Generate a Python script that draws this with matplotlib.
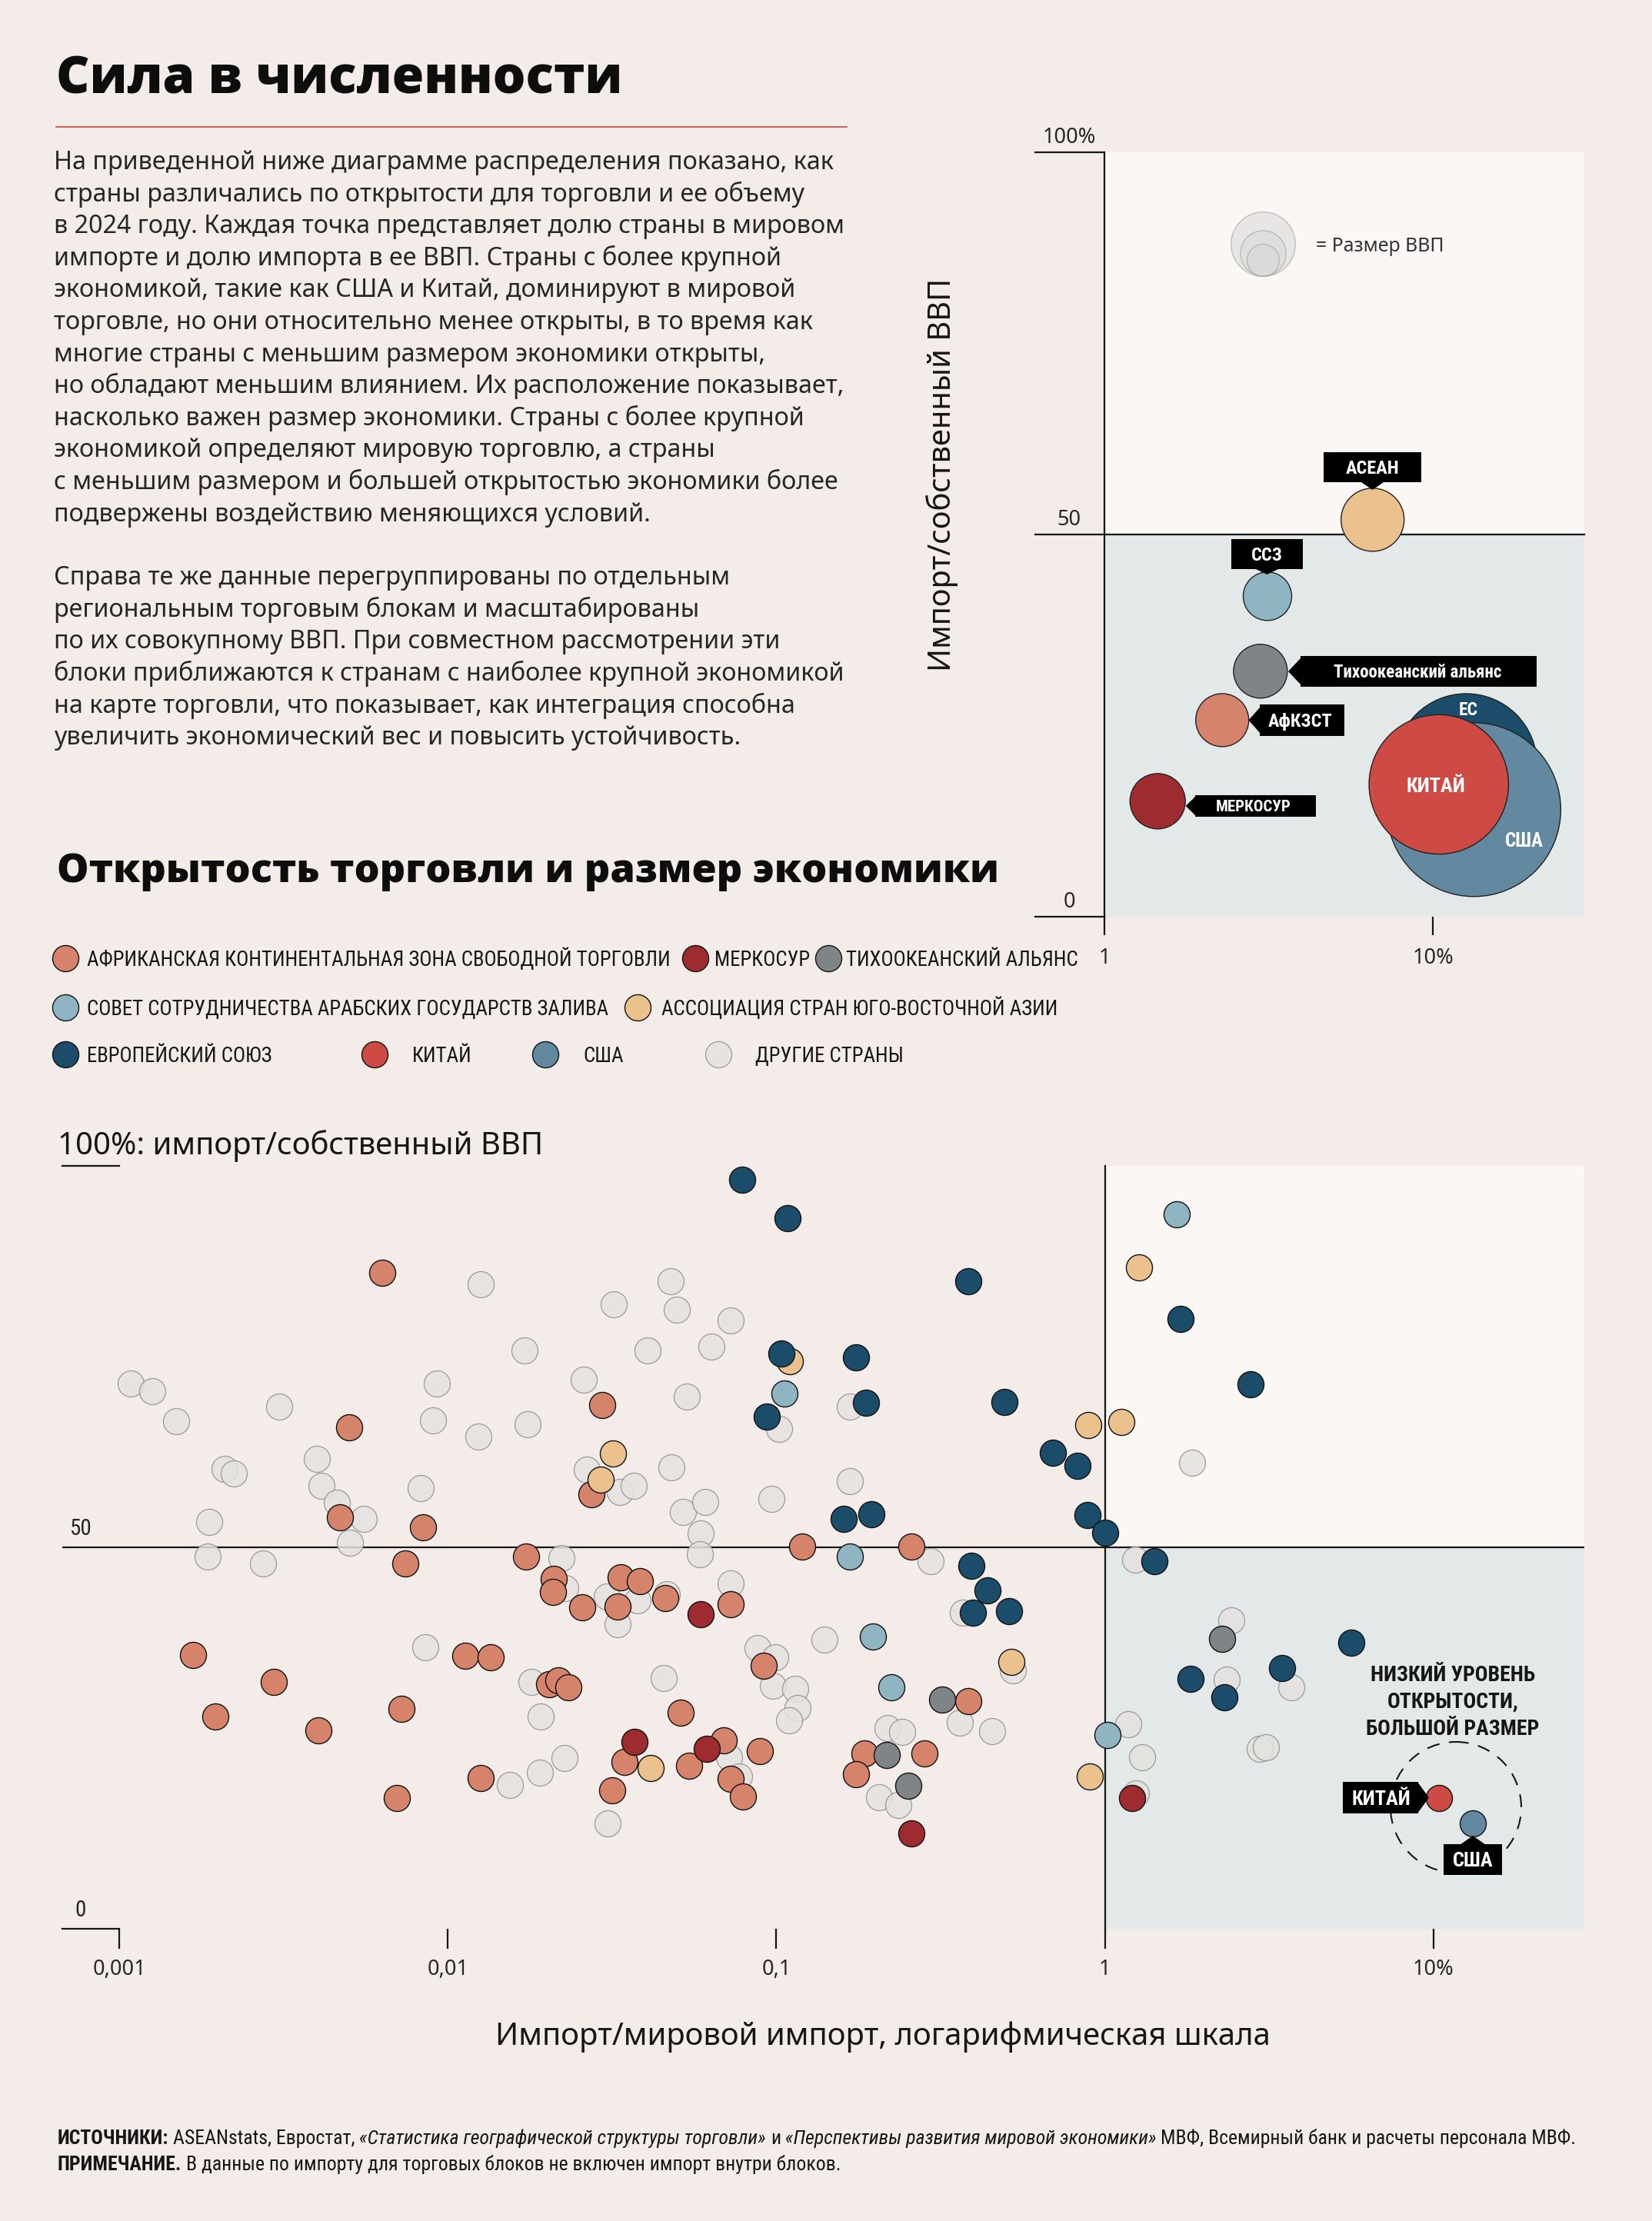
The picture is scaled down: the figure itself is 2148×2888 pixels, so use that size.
import os
import matplotlib
matplotlib.use("Agg")
import matplotlib.pyplot as plt
import matplotlib.font_manager as fm
from matplotlib.ticker import NullLocator
from matplotlib.patches import Rectangle, Polygon, Circle

# ---------------------------------------------------------------
# data
# x = import share of world imports, %   y = imports / own GDP, %
# ---------------------------------------------------------------
afcfta_x = [0.0063, 0.0050, 0.0295, 0.0274, 0.0047, 0.0084, 0.0074, 0.0173, 0.0210, 0.0209,
            0.0256, 0.0335, 0.0385, 0.0328, 0.0458, 0.0725, 0.120, 0.258, 0.00167, 0.0113,
            0.0135, 0.00295, 0.0203, 0.0217, 0.0232, 0.00196, 0.00403, 0.00723, 0.0126, 0.0070,
            0.0915, 0.0512, 0.0344, 0.0317, 0.0543, 0.0692, 0.0727, 0.0790, 0.0889, 0.185,
            0.175, 0.282, 0.385]
afcfta_y = [86.0, 65.7, 68.6, 56.9, 53.9, 52.6, 47.9, 48.8, 45.8, 44.1,
            42.1, 46.0, 45.5, 42.2, 43.3, 42.5, 50.1, 50.1, 35.9, 35.8,
            35.6, 32.3, 32.0, 32.5, 31.6, 27.8, 26.0, 28.8, 19.7, 17.1,
            34.4, 28.3, 21.8, 18.1, 21.3, 24.7, 19.6, 17.3, 23.2, 22.9,
            20.2, 22.9, 29.8]

mercosur_x = [0.0589, 0.0369, 0.0614, 0.257, 1.21]
mercosur_y = [41.2, 24.5, 23.6, 12.5, 17.1]

pacific_x = [2.27, 0.319, 0.217, 0.252]
pacific_y = [38.0, 30.0, 22.7, 18.7]

gcc_x = [1.66, 0.106, 0.167, 0.197, 0.224, 1.017]
gcc_y = [93.6, 70.1, 48.8, 38.3, 31.6, 25.4]

asean_x = [0.110, 0.0318, 0.0292, 1.27, 0.892, 1.12, 0.518, 0.0415, 0.898]
asean_y = [74.4, 62.3, 58.8, 86.7, 66.0, 66.4, 34.9, 21.0, 19.9]

eu_x = [0.0785, 0.108, 0.385, 0.1035, 0.175, 0.187, 0.0937, 0.494, 0.695, 0.825,
        0.886, 1.004, 0.160, 0.195, 0.392, 0.439, 0.397, 0.512, 1.70, 2.78,
        1.415, 5.64, 3.47, 1.82, 2.31]
eu_y = [98.2, 93.1, 84.9, 75.4, 74.9, 68.9, 67.1, 69.0, 62.4, 60.7,
        54.2, 51.9, 53.7, 54.3, 47.6, 44.3, 41.4, 41.6, 79.9, 71.4,
        48.2, 37.5, 34.1, 32.7, 30.3]

china_x, china_y = [10.4], [17.1]
usa_x, usa_y = [13.2], [13.8]

other_x = [0.0126, 0.0171, 0.0259, 0.00108, 0.00126, 0.00149, 0.00306, 0.00927, 0.00898, 0.0175,
           0.0124, 0.00209, 0.00223, 0.00399, 0.00411, 0.0046, 0.00554, 0.00504, 0.00826, 0.00187,
           0.00185, 0.00274, 0.0477, 0.0319, 0.0497, 0.0724, 0.0406, 0.0635, 0.0533, 0.0264,
           0.0479, 0.0334, 0.0367, 0.0520, 0.0607, 0.0588, 0.0586, 0.0968, 0.167, 0.167,
           0.1018, 0.0222, 0.0227, 0.295, 0.370, 0.0305, 0.0377, 0.0329, 0.0465, 0.0727,
           0.140, 0.0877, 0.0994, 0.0977, 0.114, 0.116, 0.1095, 0.526, 0.362, 0.453,
           0.0454, 0.0192, 0.0180, 0.00853, 0.0226, 0.0191, 0.0154, 0.0306, 0.0716, 0.0769,
           0.218, 0.242, 0.205, 0.235, 1.24, 2.43, 3.70, 2.35, 1.18, 1.30,
           2.97, 3.09, 1.245, 1.84]
other_y = [84.5, 75.8, 72.0, 71.5, 70.4, 66.5, 68.4, 71.5, 66.6, 66.1,
           64.5, 60.3, 59.7, 61.6, 58.0, 55.8, 53.7, 50.6, 57.7, 53.3,
           48.8, 47.9, 84.9, 81.8, 81.1, 79.7, 75.8, 76.3, 69.7, 60.2,
           60.5, 57.2, 58.0, 54.6, 55.9, 51.8, 49.1, 56.3, 58.6, 68.4,
           65.5, 48.6, 44.6, 48.2, 41.4, 43.5, 43.0, 39.9, 43.8, 45.2,
           37.9, 36.8, 35.6, 31.8, 31.4, 28.9, 27.3, 33.8, 27.0, 25.9,
           32.8, 27.8, 32.3, 36.9, 22.3, 20.4, 18.8, 13.8, 22.4, 19.9,
           26.3, 25.8, 17.2, 16.2, 48.4, 40.4, 31.6, 32.6, 26.8, 22.4,
           23.6, 23.8, 17.7, 61.1]

# trade blocs, sized by GDP (trillion $)
bloc_names = ["АСЕАН", "ССЗ", "Тихоокеанский альянс", "АфКЗСТ", "МЕРКОСУР", "ЕС", "США", "КИТАЙ"]
bloc_x = [6.54, 3.13, 2.98, 2.28, 1.45, 12.6, 13.3, 10.4]
bloc_y = [51.9, 41.9, 32.1, 25.7, 15.1, 19.9, 14.0, 17.3]
bloc_gdp = [3.84, 2.27, 2.80, 2.72, 2.96, 19.4, 29.2, 18.8]
key_gdp = [4, 2, 1]

scatter_ticks = [0.001, 0.01, 0.1, 1, 10]
scatter_ticklabels = ["0,001", "0,01", "0,1", "1", "10%"]

legend_names = ["АФРИКАНСКАЯ КОНТИНЕНТАЛЬНАЯ ЗОНА СВОБОДНОЙ ТОРГОВЛИ", "МЕРКОСУР",
                "ТИХООКЕАНСКИЙ АЛЬЯНС", "СОВЕТ СОТРУДНИЧЕСТВА АРАБСКИХ ГОСУДАРСТВ ЗАЛИВА",
                "АССОЦИАЦИЯ СТРАН ЮГО-ВОСТОЧНОЙ АЗИИ", "ЕВРОПЕЙСКИЙ СОЮЗ", "КИТАЙ", "США",
                "ДРУГИЕ СТРАНЫ"]

para1 = [
    "На приведенной ниже диаграмме распределения показано, как",
    "страны различались по открытости для торговли и ее объему",
    "в 2024 году. Каждая точка представляет долю страны в мировом",
    "импорте и долю импорта в ее ВВП. Страны с более крупной",
    "экономикой, такие как США и Китай, доминируют в мировой",
    "торговле, но они относительно менее открыты, в то время как",
    "многие страны с меньшим размером экономики открыты,",
    "но обладают меньшим влиянием. Их расположение показывает,",
    "насколько важен размер экономики. Страны с более крупной",
    "экономикой определяют мировую торговлю, а страны",
    "с меньшим размером и большей открытостью экономики более",
    "подвержены воздействию меняющихся условий.",
]
para2 = [
    "Справа те же данные перегруппированы по отдельным",
    "региональным торговым блокам и масштабированы",
    "по их совокупному ВВП. При совместном рассмотрении эти",
    "блоки приближаются к странам с наиболее крупной экономикой",
    "на карте торговли, что показывает, как интеграция способна",
    "увеличить экономический вес и повысить устойчивость.",
]

# ---------------------------------------------------------------
# style
# ---------------------------------------------------------------
BG = "#f3ece8"
UPPER = "#faf7f5"
LOWER = "#e3e8e8"
INK = "#161616"
TXT = "#262626"
RED = "#c9443f"
C_AFCFTA = "#d6836b"
C_MERC = "#9e2b30"
C_PA = "#7f8486"
C_GCC = "#8fb5c3"
C_ASEAN = "#ebc28d"
C_EU = "#1b4d6a"
C_CHINA = "#cd4a45"
C_USA = "#6289a0"
C_OTHER = "#e4e2df"
bloc_colors = [C_ASEAN, C_GCC, C_PA, C_AFCFTA, C_MERC, C_EU, C_USA, C_CHINA]
legend_colors = [C_AFCFTA, C_MERC, C_PA, C_GCC, C_ASEAN, C_EU, C_CHINA, C_USA, C_OTHER]

DOT = 600            # marker area, pt^2
BUBBLE_K = 906.7     # pt^2 per trillion $ of GDP
LW = 1.6

plt.rcParams["font.family"] = ["Noto Sans", "DejaVu Sans"]


def wnum(w):
    if isinstance(w, (int, float)):
        return w
    return fm.weight_dict.get(w, 400)


def pick_narrow(weight=400, italic=False):
    prefs = ["roboto", "liberation", "noto", "open", "dejavu"]
    best, score = None, 1e9
    for f in fm.fontManager.ttflist:
        nm = f.name.lower()
        fn = os.path.basename(f.fname).lower()
        tag = nm + " " + fn
        st = str(f.stretch).lower()
        narrow = ("condensed" in tag or "narrow" in tag or
                  st in ("condensed", "semi-condensed", "extra-condensed", "ultra-condensed"))
        if not narrow or "mono" in tag or "cjk" in tag:
            continue
        if "serif" in nm and "sans" not in nm:
            continue
        fam = next((i for i, p in enumerate(prefs) if p in tag), len(prefs))
        it = f.style in ("italic", "oblique")
        sc = fam * 10 + abs(wnum(f.weight) - weight) / 100 + (6 if it != italic else 0) \
            + (1 if "semi" in tag else 0)
        if sc < score:
            best, score = f, sc
    if best is None:
        return fm.FontProperties(family="DejaVu Sans", weight=weight,
                                 style="italic" if italic else "normal")
    return fm.FontProperties(fname=best.fname)


def pick_heavy(families, weight):
    # a real bold file from a normal-width family
    for fam in families:
        best, bd = None, 1e9
        for f in fm.fontManager.ttflist:
            fn = os.path.basename(f.fname).lower()
            if f.name.lower() != fam.lower() or f.style != "normal":
                continue
            if "condensed" in fn or "narrow" in fn:
                continue
            d = abs(wnum(f.weight) - weight)
            if d < bd:
                best, bd = f, d
        if best is not None and bd <= 110:
            return fm.FontProperties(fname=best.fname)
    return fm.FontProperties(family="DejaVu Sans", weight="bold")


NARROW = pick_narrow(400)
NARROW_B = pick_narrow(700)
NARROW_I = pick_narrow(400, italic=True)
BODY = fm.FontProperties(family=["Noto Sans", "DejaVu Sans"])
BOLD = pick_heavy(["Noto Sans", "Open Sans", "Roboto", "Inter", "DejaVu Sans"], 760)

W, H = 2148, 2888
fig = plt.figure(figsize=(W / 100, H / 100), dpi=100, facecolor=BG)
R = fig.canvas.get_renderer()


def box(l, t, r, b):
    return [l / W, 1 - b / H, (r - l) / W, (b - t) / H]


# ---------------- main scatter ----------------
ax = fig.add_axes(box(80.5, 1516, 2060.4, 2507.5))
ax.set_xscale("log")
ax.set_xlim(10 ** -3.1756, 10 ** 1.4611)
ax.set_ylim(0, 100)
ax.set_facecolor("none")
for s in ax.spines.values():
    s.set_visible(False)
xmin, xmax = ax.get_xlim()
ax.axvspan(1, xmax, 0.5, 1, fc=UPPER, lw=0, zorder=0)
ax.axvspan(1, xmax, 0, 0.5, fc=LOWER, lw=0, zorder=0)
ax.axhline(50, color=INK, lw=LW, zorder=1)
ax.plot([1, 1], [0, 100], color=INK, lw=LW, zorder=1, clip_on=False)
ax.plot([xmin, 0.001], [100, 100], color=INK, lw=LW, clip_on=False)
ax.plot([xmin, 0.001], [0, 0], color=INK, lw=LW, clip_on=False)
ax.set_yticks([])
ax.set_xticks(scatter_ticks)
ax.set_xticklabels(scatter_ticklabels)
ax.xaxis.set_minor_locator(NullLocator())
ax.tick_params(axis="x", direction="out", length=19, width=LW, color=INK,
               pad=9.5, labelsize=19.5, labelcolor=TXT)
yt = ax.get_yaxis_transform()
for v, lab in zip([50, 0], ["50", "0"]):
    ax.annotate(lab, xy=(0.0124, v), xycoords=yt, xytext=(0, 11), textcoords="offset points",
                ha="center", va="baseline", fontproperties=NARROW, fontsize=21, color=TXT)

ax.scatter(other_x, other_y, s=DOT, fc=C_OTHER, ec="#8e8e8e", lw=0.9, alpha=0.85, zorder=2)
groups = [(afcfta_x, afcfta_y, C_AFCFTA), (mercosur_x, mercosur_y, C_MERC),
          (pacific_x, pacific_y, C_PA), (gcc_x, gcc_y, C_GCC), (asean_x, asean_y, C_ASEAN),
          (eu_x, eu_y, C_EU), (china_x, china_y, C_CHINA), (usa_x, usa_y, C_USA)]
for gx, gy, c in groups:
    ax.scatter(gx, gy, s=DOT, fc=c, ec="#111111", lw=1.0, zorder=3)

# ---------------- bloc bubble chart ----------------
ax2 = fig.add_axes(box(1436.3, 197.5, 2060.4, 1192))
ax2.set_xscale("log")
ax2.set_xlim(1, 10 ** 1.461)
ax2.set_ylim(0, 100)
ax2.set_facecolor("none")
for s in ax2.spines.values():
    s.set_visible(False)
ax2.axhspan(50, 100, fc=UPPER, lw=0, zorder=0)
ax2.axhspan(0, 50, fc=LOWER, lw=0, zorder=0)
yt2 = ax2.get_yaxis_transform()
ax2.plot([-0.145, 1], [50, 50], transform=yt2, color=INK, lw=LW, clip_on=False, zorder=1)
ax2.plot([-0.145, 0], [100, 100], transform=yt2, color=INK, lw=LW, clip_on=False, zorder=1)
ax2.plot([-0.145, 0], [0, 0], transform=yt2, color=INK, lw=LW, clip_on=False, zorder=1)
ax2.axvline(1, color=INK, lw=LW, clip_on=False, zorder=1)
ax2.set_yticks([])
ax2.set_xticks([1, 10])
ax2.set_xticklabels(["1", "10%"])
ax2.xaxis.set_minor_locator(NullLocator())
ax2.tick_params(axis="x", direction="out", length=17, width=LW, color=INK,
                pad=12, labelsize=19.5, labelcolor=TXT)
for v, lab in zip([100, 50, 0], ["100%", "50", "0"]):
    ax2.annotate(lab, xy=(-0.0742, v), xycoords=yt2, xytext=(0, 8.5), textcoords="offset points",
                 ha="center", va="baseline", fontsize=19.5, color=TXT)
ax2.scatter(bloc_x, bloc_y, s=[g * BUBBLE_K for g in bloc_gdp], c=bloc_colors,
            ec="#222222", lw=1.0, zorder=3, clip_on=False)

# ---------------- overlay in pixel coordinates ----------------
ov = fig.add_axes([0, 0, 1, 1])
ov.set_xlim(0, W)
ov.set_ylim(H, 0)
ov.axis("off")
ov.patch.set_visible(False)


def fit(t, target, maxsize=None, vertical=False):
    bb = t.get_window_extent(renderer=R)
    cur = bb.height if vertical else bb.width
    size = t.get_fontsize() * target / cur
    if maxsize is not None:
        size = min(size, maxsize)
    t.set_fontsize(size)
    return size


def cap_base(y, size):
    return y + 0.36 * size * 100 / 72


# title + rule
t = ov.text(73, 122, "Сила в численности", fontproperties=BOLD, fontsize=50,
            color="#0d0d0d", va="baseline")
fit(t, 737)
ov.plot([73, 1101], [164.5, 164.5], color=RED, lw=1.2)

# intro text
t = ov.text(70, 220, para1[0], fontproperties=BODY, fontsize=22, color=TXT, va="baseline")
bs = fit(t, 1017)
for i, line in enumerate(para1[1:], 1):
    ov.text(70, 220 + i * 41.6, line, fontproperties=BODY, fontsize=bs, color=TXT, va="baseline")
for i, line in enumerate(para2):
    ov.text(70, 760.2 + i * 41.6, line, fontproperties=BODY, fontsize=bs, color=TXT, va="baseline")

# section heading
t = ov.text(74, 1147, "Открытость торговли и размер экономики", fontproperties=BOLD,
            fontsize=40, color="#0d0d0d", va="baseline")
fit(t, 1225)

# legend
leg_pos = [(85, 112.8, 1246, 766), (904.4, 929.3, 1246, 124.7), (1077, 1100, 1246, 313),
           (85, 112.8, 1310, 677.8), (828.6, 860, 1310, 531.7),
           (85, 112.8, 1371, 268), (487.3, 536.3, 1371, 78.7), (709.3, 758.3, 1371, 57.3),
           (934, 982, 1371, 199.8)]
sizes = []
for name, (mx, tx, ty, tw) in zip(legend_names, leg_pos):
    t = ov.text(tx, ty, name, fontproperties=NARROW, fontsize=22)
    sizes.append(fit(t, tw))
    t.remove()
ls_ = min(min(sizes), 24)
for name, c, (mx, tx, ty, tw) in zip(legend_names, legend_colors, leg_pos):
    other = c == C_OTHER
    ov.scatter([mx], [ty], s=DOT, fc=c, ec="#8e8e8e" if other else "#111111",
               lw=0.9 if other else 1.0, alpha=0.85 if other else 1, zorder=3)
    ov.text(tx, cap_base(ty, ls_), name, fontproperties=NARROW, fontsize=ls_,
            color=INK, va="baseline")

# axis titles
t = ov.text(75, 1501, "100%: импорт/собственный ВВП", fontproperties=BODY, fontsize=26,
            color=INK, va="baseline")
fit(t, 633)
t = ov.text(1225, 617, "Импорт/собственный ВВП", fontproperties=BODY, fontsize=26,
            color=INK, rotation=90, ha="center", va="center")
fit(t, 512, vertical=True)
t = ov.text(644, 2659, "Импорт/мировой импорт, логарифмическая шкала", fontproperties=BODY,
            fontsize=26, color=INK, va="baseline")
fit(t, 1011)

# GDP size key
kx, kbottom = 1641.8, 358.8
for g in key_gdp:
    r = (g * BUBBLE_K) ** 0.5 / 2 * 100 / 72
    ov.scatter([kx], [kbottom - r], s=g * BUBBLE_K, fc="#d8d8d8", ec="#9a9a9a",
               lw=1.0, alpha=0.55, zorder=3)
t = ov.text(1711, 327, "= Размер ВВП", fontproperties=BODY, fontsize=17, color="#333333",
            va="baseline")
fit(t, 166)


def tag(text, rect, pointer, tx, target, maxsize=17.5):
    x0, y0, x1, y1 = rect
    ov.add_patch(Rectangle((x0, y0), x1 - x0, y1 - y0, fc="black", ec="none", zorder=5))
    ov.add_patch(Polygon(pointer, closed=True, fc="black", ec="none", zorder=5))
    cy = (y0 + y1) / 2
    t = ov.text(tx, cy, text, fontproperties=NARROW_B, fontsize=maxsize, color="white",
                ha="center", va="baseline", zorder=6)
    sz = fit(t, target, maxsize)
    t.set_y(cap_base(cy, sz))


tag("АСЕАН", (1720.8, 587.6, 1848.4, 627.3), [(1770, 627), (1799, 627), (1784.6, 637)], 1784.6, 80)
tag("ССЗ", (1600.7, 700.6, 1693.7, 740.2), [(1633, 740), (1662, 740), (1647.5, 747)], 1647.2, 44)
tag("Тихоокеанский альянс", (1690.5, 853, 1997.7, 892.7),
    [(1691, 856), (1691, 890), (1675, 873)], 1843, 284, 16.5)
tag("АфКЗСТ", (1638, 916.2, 1747.8, 956.5), [(1639, 919), (1639, 954), (1623.5, 936.4)], 1691, 92)
tag("МЕРКОСУР", (1554.2, 1033.6, 1711, 1062.2), [(1555, 1035), (1555, 1061), (1541.7, 1048)],
    1630, 130, 15)
tag("КИТАЙ", (1745.9, 2317, 1843.7, 2358), [(1843, 2317), (1843, 2358), (1858, 2337.5)],
    1795.5, 78, 19)
tag("США", (1877.2, 2398.2, 1952.5, 2437.5), [(1898, 2399), (1932, 2399), (1915, 2387)],
    1915, 54, 19)

# names inside the big bubbles
for name, x, y, tw, mx in [("ЕС", 1909.3, 921.7, 25, 17), ("КИТАЙ", 1866.7, 1020.7, 78, 19),
                           ("США", 1982.3, 1091.7, 53, 18)]:
    t = ov.text(x, y, name, fontproperties=NARROW_B, fontsize=mx, color="white",
                ha="center", va="baseline", zorder=6)
    sz = fit(t, tw, mx)
    t.set_y(cap_base(y, sz))

# low openness, large size note
note_lines = ["НИЗКИЙ УРОВЕНЬ", "ОТКРЫТОСТИ,", "БОЛЬШОЙ РАЗМЕР"]
t = ov.text(1889, 2256, note_lines[2], fontproperties=NARROW_B, fontsize=19, color=INK,
            ha="center", va="baseline")
ns = fit(t, 264, 20)
for i, line in enumerate(note_lines[:2]):
    ov.text(1889, 2186 + i * 35, line, fontproperties=NARROW_B, fontsize=ns, color=INK,
            ha="center", va="baseline")
ov.add_patch(Circle((1893, 2350), 85, fill=False, ec=INK, lw=1.5, ls=(0, (8, 6)), zorder=4))


# footer
def runs(x, y, parts, size):
    out, cx = [], x
    for s, fp, gap in parts:
        t = ov.text(cx, y, s, fontproperties=fp, fontsize=size, color=INK, va="baseline")
        cx += t.get_window_extent(renderer=R).width + (0.22 * size * 100 / 72 if gap else 0)
        out.append(t)
    return out, cx - x


src = [("ИСТОЧНИКИ:", NARROW_B, True), ("ASEANstats, Евростат,", NARROW, True),
       ("«Статистика географической структуры торговли»", NARROW_I, True), ("и", NARROW, True),
       ("«Перспективы развития мировой экономики»", NARROW_I, True),
       ("МВФ, Всемирный банк и расчеты персонала МВФ.", NARROW, False)]
note = [("ПРИМЕЧАНИЕ.", NARROW_B, True),
        ("В данные по импорту для торговых блоков не включен импорт внутри блоков.", NARROW, False)]
ts, wsrc = runs(75, 2788, src, 18)
for t in ts:
    t.remove()
fs = min(18 * 1980 / wsrc, 19)
runs(75, 2788, src, fs)
runs(75, 2822, note, fs)

fig.savefig("out.png", dpi=100, facecolor=BG)
